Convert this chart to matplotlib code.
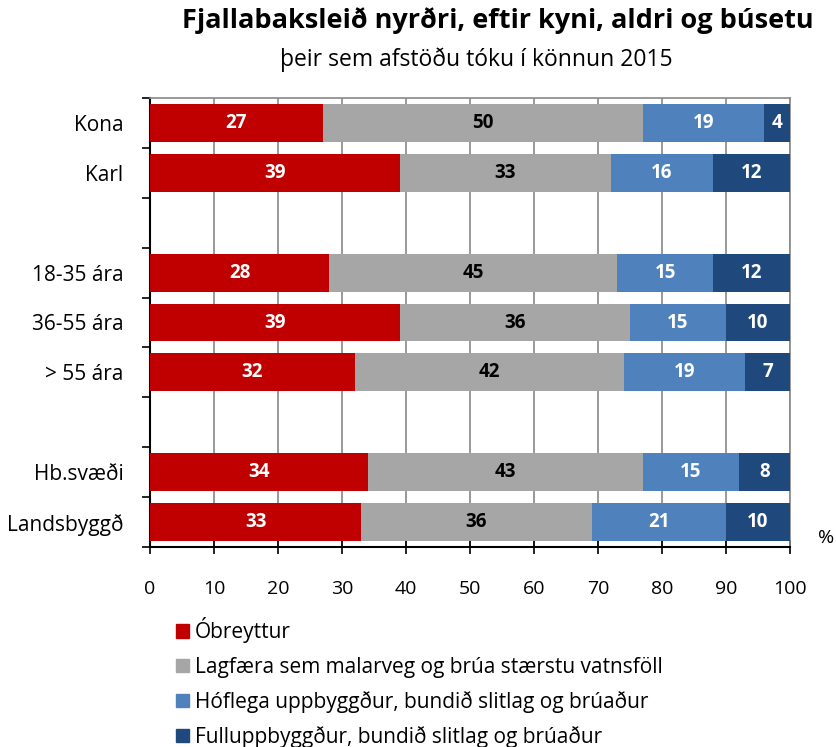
import numpy as np
import matplotlib.pyplot as plt
from matplotlib.patches import Patch

plt.rcParams['font.family'] = ['Open Sans', 'DejaVu Sans']

# Data
categories = ['Kona', 'Karl', '', '18-35 ára', '36-55 ára', '> 55 ára', '', 'Hb.svæði', 'Landsbyggð']
obreyttur = [27, 39, 0, 28, 39, 32, 0, 34, 33]
lagfaera = [50, 33, 0, 45, 36, 42, 0, 43, 36]
hoflega = [19, 16, 0, 15, 15, 19, 0, 15, 21]
fullupp = [4, 12, 0, 12, 10, 7, 0, 8, 10]

series_names = ['Óbreyttur',
                'Lagfæra sem malarveg og brúa stærstu vatnsföll',
                'Hóflega uppbyggður, bundið slitlag og brúaður',
                'Fulluppbyggður, bundið slitlag og brúaður']
colors = ['#c00000', '#a6a6a6', '#4f81bd', '#1f497d']
text_colors = ['white', 'black', 'white', 'white']

fig = plt.figure(figsize=(8.37, 7.47), dpi=100)
ax = fig.add_axes([150 / 837, 1 - 547 / 747, 640 / 837, 449 / 747])

y = np.arange(len(categories))
left = np.zeros(len(categories))
for vals, col, tcol in zip([obreyttur, lagfaera, hoflega, fullupp], colors, text_colors):
    vals = np.array(vals, dtype=float)
    ax.barh(y, vals, left=left, height=0.76, color=col, zorder=3)
    for yi, l, v in zip(y, left, vals):
        if v > 0:
            ax.text(l + v / 2, yi, f'{int(v)}', ha='center', va='center',
                    color=tcol, fontsize=13.5, fontweight='bold', zorder=4)
    left += vals

ax.set_xlim(0, 100)
ax.set_ylim(len(categories) - 0.5, -0.5)
ax.set_xticks(np.arange(0, 101, 10))
ax.tick_params(axis='x', labelsize=14, direction='inout', length=10, width=1.2, pad=19)
ax.xaxis.grid(True, color='#888888', linewidth=1.2, zorder=0)

# category labels as minor ticks, boundary ticks as major
ax.set_yticks(np.arange(-0.5, len(categories), 1.0))
ax.set_yticklabels([])
ax.set_yticks(y, minor=True)
ax.set_yticklabels(categories, minor=True)
ax.tick_params(axis='y', which='minor', length=0, labelsize=15, pad=19)
ax.tick_params(axis='y', which='major', length=6, width=1.2, direction='out')

for s in ['top', 'right']:
    ax.spines[s].set_color('#888888')
    ax.spines[s].set_linewidth(1.2)
for s in ['left', 'bottom']:
    ax.spines[s].set_color('black')
    ax.spines[s].set_linewidth(1.5)

fig.text(826 / 837, 1 - 538 / 747, '%', ha='center', va='center', fontsize=14)

fig.text(498 / 837, 1 - 21 / 747, 'Fjallabaksleið nyrðri, eftir kyni, aldri og búsetu',
         ha='center', va='center', fontsize=19.5, fontweight='bold')
fig.text(476 / 837, 1 - 60 / 747, 'þeir sem afstöðu tóku í könnun 2015',
         ha='center', va='center', fontsize=16.5)

handles = [Patch(color=c) for c in colors]
fig.legend(handles, series_names, loc='upper left', bbox_to_anchor=(168 / 837, 1 - 609 / 747),
           frameon=False, fontsize=15, handlelength=0.6, handleheight=0.6,
           handletextpad=0.3, labelspacing=0.64, borderaxespad=0)

fig.savefig('out.png', dpi=100)
